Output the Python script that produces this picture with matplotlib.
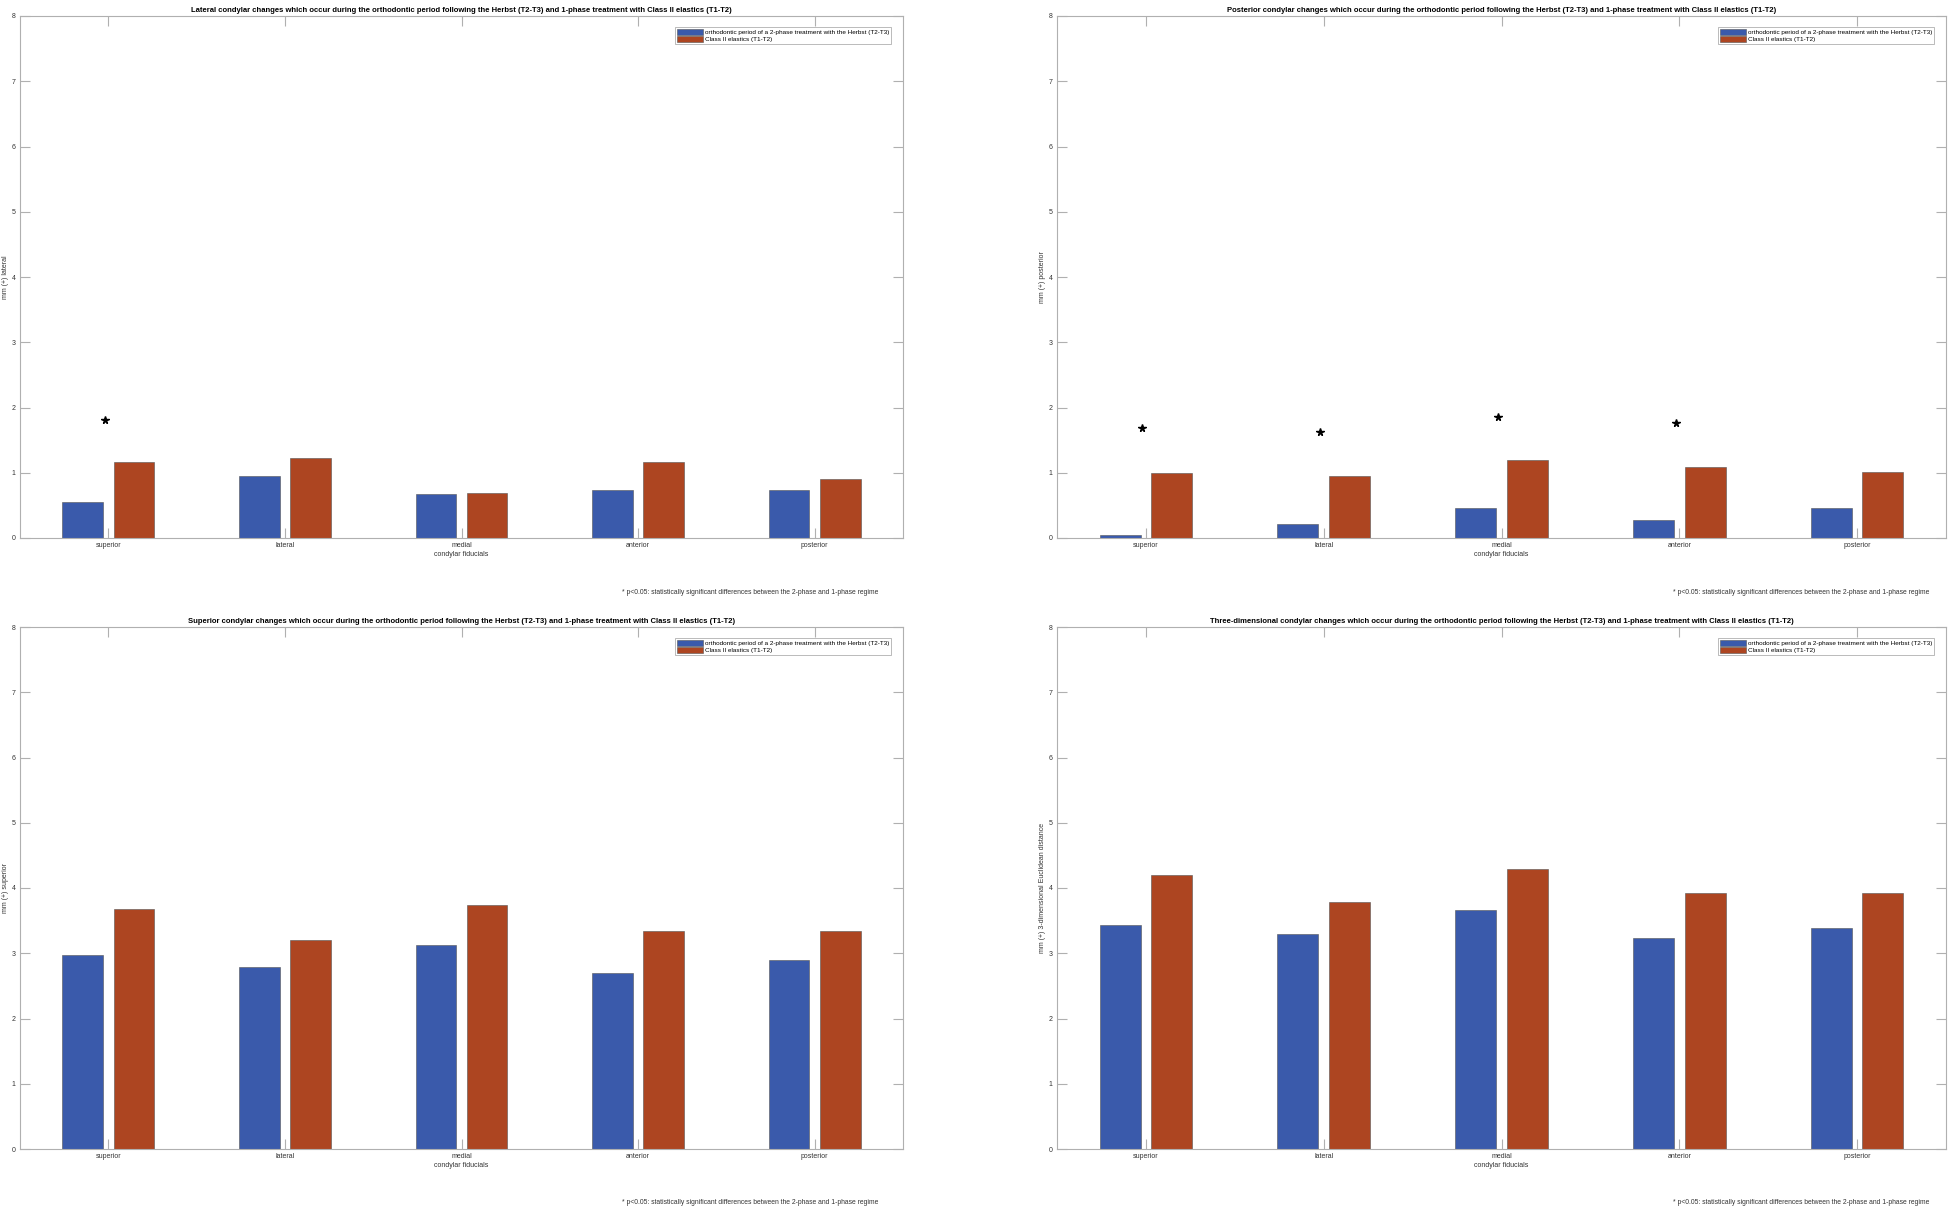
import numpy as np
import matplotlib.pyplot as plt

plt.rcParams['font.family'] = ['Liberation Sans', 'DejaVu Sans']

# data
fiducials = ['superior', 'lateral', 'medial', 'anterior', 'posterior']
legend_labels = ['orthodontic period of a 2-phase treatment with the Herbst (T2-T3)',
                 'Class II elastics (T1-T2)']

lateral_herbst = [0.55, 0.95, 0.67, 0.73, 0.74]
lateral_elastics = [1.16, 1.22, 0.69, 1.16, 0.90]
lateral_stars = [1.81, None, None, None, None]

posterior_herbst = [0.04, 0.21, 0.46, 0.27, 0.46]
posterior_elastics = [0.99, 0.95, 1.20, 1.09, 1.01]
posterior_stars = [1.68, 1.62, 1.85, 1.77, None]

superior_herbst = [2.98, 2.79, 3.13, 2.69, 2.90]
superior_elastics = [3.68, 3.21, 3.74, 3.34, 3.34]
superior_stars = [None] * 5

euclid_herbst = [3.44, 3.30, 3.66, 3.23, 3.38]
euclid_elastics = [4.20, 3.78, 4.29, 3.93, 3.93]
euclid_stars = [None] * 5

titles = [
    'Lateral condylar changes which occur during the orthodontic period following the Herbst (T2-T3) and 1-phase treatment with Class II elastics (T1-T2)',
    'Posterior condylar changes which occur during the orthodontic period following the Herbst (T2-T3) and 1-phase treatment with Class II elastics (T1-T2)',
    'Superior condylar changes which occur during the orthodontic period following the Herbst (T2-T3) and 1-phase treatment with Class II elastics (T1-T2)',
    'Three-dimensional condylar changes which occur during the orthodontic period following the Herbst (T2-T3) and 1-phase treatment with Class II elastics (T1-T2)',
]
ylabels = ['mm (+) lateral', 'mm (+) posterior', 'mm (+) superior',
           'mm (+) 3-dimensional Euclidean distance']
footnote = '* p<0.05: statistically significant differences between the 2-phase and 1-phase regime'

panels = [
    (lateral_herbst, lateral_elastics, lateral_stars),
    (posterior_herbst, posterior_elastics, posterior_stars),
    (superior_herbst, superior_elastics, superior_stars),
    (euclid_herbst, euclid_elastics, euclid_stars),
]

blue = '#3a5aab'
red = '#ad4521'
grey = '#b0b0b0'

fig = plt.figure(figsize=(19.54, 12.12), dpi=100)
fig.patch.set_facecolor('white')

W, H = 1954, 1212
boxes = [  # left, top, right, bottom in pixels
    (20, 16, 903, 538),
    (1057, 16, 1946, 538),
    (20, 627, 903, 1149),
    (1057, 627, 1946, 1149),
]

x = np.arange(1, 6)
for i, (herbst, elastics, stars) in enumerate(panels):
    l, t, r, b = boxes[i]
    ax = fig.add_axes([l / W, 1 - b / H, (r - l) / W, (b - t) / H])
    ax.bar(x - 0.145, herbst, width=0.23, color=blue, edgecolor='#555555', linewidth=0.4,
           label=legend_labels[0], zorder=2)
    ax.bar(x + 0.145, elastics, width=0.23, color=red, edgecolor='#555555', linewidth=0.4,
           label=legend_labels[1], zorder=2)
    for xi, s in zip(x, stars):
        if s is not None:
            ax.plot(xi - 0.02, s, marker='*', color='black', markersize=5.5, zorder=3)
    ax.set_xlim(0.5, 5.5)
    ax.set_ylim(0, 8)
    ax.set_xticks(x)
    ax.set_xticklabels(fiducials)
    ax.set_yticks(range(0, 9))
    ax.tick_params(direction='in', length=7, width=0.8, color=grey, labelsize=5,
                   labelcolor='#333333', top=True, right=True, pad=3)
    for sp in ax.spines.values():
        sp.set_color(grey)
        sp.set_linewidth(0.8)
    ax.set_title(titles[i], fontsize=5.5, fontweight='bold', pad=3)
    ax.set_ylabel(ylabels[i], fontsize=5, labelpad=2, color='#333333')
    ax.set_xlabel('condylar fiducials', fontsize=5, labelpad=1, color='#333333')
    leg = ax.legend(loc='upper right', fontsize=4.6, frameon=True, fancybox=False,
                    edgecolor='#888888', handlelength=4, handleheight=1.0,
                    borderpad=0.3, labelspacing=0.2, handletextpad=0.3,
                    bbox_to_anchor=(0.99, 0.985))
    leg.get_frame().set_linewidth(0.5)
    fy = 592 if i < 2 else 1202
    fx = 878 if i % 2 == 0 else 1929
    fig.text(fx / W, 1 - fy / H, footnote, fontsize=4.9, ha='right', va='center',
             color='#333333')

fig.savefig('out.png', dpi=100, facecolor='white')
